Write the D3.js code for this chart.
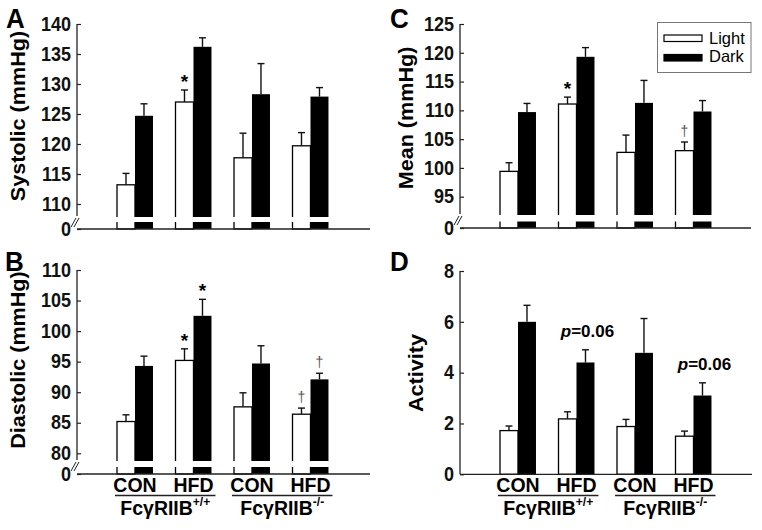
<!DOCTYPE html>
<html><head><meta charset="utf-8">
<script src="https://cdn.jsdelivr.net/npm/d3@7"></script>
<style>body{margin:0;background:#fff} svg{display:block;font-family:"Liberation Sans",Arial,sans-serif}</style>
</head><body><svg id="c" width="762" height="530"></svg>
<script>
// ---------- data ----------
const groups = ["CON +/+", "HFD +/+", "CON -/-", "HFD -/-"];
const groupLabels = ["CON", "HFD", "CON", "HFD"];
const genotypeLabels = ["+/+", "-/-"];
const series = ["Light", "Dark"];

const systolicTicks = [0, 110, 115, 120, 125, 130, 135, 140];
const systolicLight = [113.2, 127.0, 117.7, 119.7];
const systolicLightErr = [1.9, 2.0, 4.1, 2.2];
const systolicDark = [124.7, 136.2, 128.3, 127.9];
const systolicDarkErr = [2.0, 1.5, 5.1, 1.5];

const diastolicTicks = [0, 80, 85, 90, 95, 100, 105, 110];
const diastolicLight = [85.2, 95.2, 87.6, 86.4];
const diastolicLightErr = [1.1, 1.9, 2.3, 1.0];
const diastolicDark = [94.3, 102.5, 94.7, 92.1];
const diastolicDarkErr = [1.6, 2.7, 2.9, 1.0];

const meanTicks = [0, 95, 100, 105, 110, 115, 120, 125];
const meanLight = [99.4, 111.1, 102.7, 103.0];
const meanLightErr = [1.5, 1.2, 3.0, 1.5];
const meanDark = [109.7, 119.3, 111.3, 109.8];
const meanDarkErr = [1.5, 1.6, 3.9, 1.9];

const activityTicks = [0, 2, 4, 6, 8];
const activityLight = [1.72, 2.18, 1.88, 1.5];
const activityLightErr = [0.18, 0.28, 0.28, 0.2];
const activityDark = [6.0, 4.4, 4.78, 3.1];
const activityDarkErr = [0.65, 0.5, 1.35, 0.5];

const systolicMarks = [{g: 1, s: 0, t: "*"}];
const diastolicMarks = [{g: 1, s: 0, t: "*"}, {g: 1, s: 1, t: "*"}, {g: 3, s: 0, t: "†"}, {g: 3, s: 1, t: "†"}];
const meanMarks = [{g: 1, s: 0, t: "*"}, {g: 3, s: 0, t: "†"}];
const activityMarks = [{g: 1, s: 1, t: "p=0.06"}, {g: 3, s: 1, t: "p=0.06"}];

// ---------- drawing ----------
const svg = d3.select("#c");
const SY = 1.08;

const panels = [
  {letter: "A", lx: 6, ly: 28, title: "Systolic (mmHg)", tx: 18, ty: 116, ticks: systolicTicks,
   light: systolicLight, lightErr: systolicLightErr, dark: systolicDark, darkErr: systolicDarkErr, marks: systolicMarks,
   ax: 77, xEnd: 370, top: 24, yMin: 204, bottom: 229, brk: [217, 222], xlab: false},
  {letter: "B", lx: 5, ly: 271, title: "Diastolic (mmHg)", tx: 18, ty: 360, ticks: diastolicTicks,
   light: diastolicLight, lightErr: diastolicLightErr, dark: diastolicDark, darkErr: diastolicDarkErr, marks: diastolicMarks,
   ax: 77, xEnd: 370, top: 270, yMin: 453.3, bottom: 474, brk: [461, 467], xlab: true},
  {letter: "C", lx: 390, ly: 28, title: "Mean (mmHg)", tx: 406, ty: 118, ticks: meanTicks,
   light: meanLight, lightErr: meanLightErr, dark: meanDark, darkErr: meanDarkErr, marks: meanMarks,
   ax: 460, xEnd: 751, top: 24, yMin: 196.7, bottom: 228, brk: [215, 221.5], xlab: false, legend: true},
  {letter: "D", lx: 390, ly: 271, title: "Activity", tx: 416, ty: 373, ticks: activityTicks,
   light: activityLight, lightErr: activityLightErr, dark: activityDark, darkErr: activityDarkErr, marks: activityMarks,
   ax: 460, xEnd: 752, top: 271, yMin: null, bottom: 474.3, brk: null, xlab: true}
];

function drawPanel(p) {
  const g = svg.append("g");
  const step = 58.5, pin = 0.385, pout = pin / 2;
  const x0 = p.ax + 40 - pout * step;
  const x = d3.scaleBand().domain(groups).range([x0, x0 + 4 * step]).paddingInner(pin).paddingOuter(pout);
  const xs = d3.scaleBand().domain(series).range([0, x.bandwidth()]);
  const tmax = p.ticks[p.ticks.length - 1];
  let y;
  if (p.brk) {
    const tmin = p.ticks[1];
    y = d3.scaleLinear().domain([0, tmin, tmax]).range([p.bottom, p.yMin, p.top]);
  } else {
    y = d3.scaleLinear().domain([0, tmax]).range([p.bottom, p.top]);
  }
  const rows = [];
  groups.forEach((gr, i) => {
    rows.push({g: gr, gi: i, s: "Light", si: 0, v: p.light[i], e: p.lightErr[i]});
    rows.push({g: gr, gi: i, s: "Dark", si: 1, v: p.dark[i], e: p.darkErr[i]});
  });
  // bars
  g.selectAll("rect.bar").data(rows).join("rect")
    .attr("x", d => x(d.g) + xs(d.s))
    .attr("y", d => y(d.v))
    .attr("width", xs.bandwidth())
    .attr("height", d => y(0) - y(d.v))
    .attr("fill", d => d.si === 0 ? "#fff" : "#000")
    .attr("stroke", "#000")
    .attr("stroke-width", d => d.si === 0 ? 1.3 : 0);
  // error bars
  const eb = g.selectAll("g.err").data(rows).join("g").attr("stroke", "#111").attr("stroke-width", 1.4);
  eb.append("line")
    .attr("x1", d => x(d.g) + xs(d.s) + xs.bandwidth() / 2)
    .attr("x2", d => x(d.g) + xs(d.s) + xs.bandwidth() / 2)
    .attr("y1", d => y(d.v)).attr("y2", d => y(d.v + d.e));
  eb.append("line")
    .attr("x1", d => x(d.g) + xs(d.s) + xs.bandwidth() / 2 - 3.5)
    .attr("x2", d => x(d.g) + xs(d.s) + xs.bandwidth() / 2 + 3.5)
    .attr("y1", d => y(d.v + d.e)).attr("y2", d => y(d.v + d.e));
  // break band
  if (p.brk) {
    g.append("rect").attr("x", p.ax + 2).attr("y", p.brk[0]).attr("width", p.xEnd - p.ax - 2)
      .attr("height", p.brk[1] - p.brk[0]).attr("fill", "#fff");
  }
  // y axis
  const axis = d3.axisLeft(y).tickValues(p.ticks).tickSizeInner(-4).tickSizeOuter(0).tickPadding(6).tickFormat(d3.format("d"));
  const ag = g.append("g").attr("transform", `translate(${p.ax},0)`).call(axis);
  ag.select(".domain").remove();
  ag.selectAll(".tick line").attr("stroke", "#222").attr("stroke-width", 1.2);
  ag.selectAll(".tick text").attr("font-size", 18).attr("font-weight", "bold").attr("fill", "#111")
    .attr("font-family", '"Liberation Sans",Arial,sans-serif')
    .attr("transform", `scale(1,${SY})`);
  g.append("line").attr("x1", p.ax).attr("x2", p.ax).attr("y1", p.top)
    .attr("y2", p.brk ? p.brk[0] - 1 : p.bottom).attr("stroke", "#222").attr("stroke-width", 1.3);
  if (p.brk) {
    const b = p.brk[0];
    [-6, -3].forEach(dx => {
      g.append("line").attr("x1", p.ax + dx).attr("y1", b + 10).attr("x2", p.ax + dx + 5).attr("y2", b + 1)
        .attr("stroke", "#222").attr("stroke-width", 1);
    });
  }
  // x axis
  g.append("line").attr("x1", p.ax).attr("x2", p.xEnd).attr("y1", p.bottom).attr("y2", p.bottom)
    .attr("stroke", "#222").attr("stroke-width", 1.3);
  // panel letter
  g.append("text").attr("transform", `translate(${p.lx},${p.ly}) scale(1,${SY})`)
    .attr("font-size", 26).attr("font-weight", "bold").text(p.letter);
  // y title
  g.append("text").attr("transform", `translate(${p.tx},${p.ty}) rotate(-90) scale(${SY},1)`)
    .attr("text-anchor", "middle").attr("dy", "0.36em")
    .attr("font-size", 20).attr("font-weight", "bold").text(p.title);
  // marks
  p.marks.forEach(m => {
    const v = m.s === 0 ? p.light[m.g] : p.dark[m.g];
    const e = m.s === 0 ? p.lightErr[m.g] : p.darkErr[m.g];
    const cx = x(groups[m.g]) + xs(series[m.s]) + xs.bandwidth() / 2;
    const top = y(v + e);
    if (m.t === "*") {
      g.append("text").attr("x", cx).attr("y", top - 2).attr("text-anchor", "middle")
        .attr("font-size", 19).attr("font-weight", "bold").text("*");
    } else if (m.t === "†") {
      g.append("text").attr("x", cx).attr("y", top - 6).attr("text-anchor", "middle")
        .attr("font-size", 14).attr("fill", "#555").text("†");
    } else {
      const t = g.append("text").attr("x", cx + 2).attr("y", top - 13).attr("text-anchor", "middle")
        .attr("font-size", 17).attr("font-weight", "bold");
      t.append("tspan").attr("font-style", "italic").text("p");
      t.append("tspan").text(m.t.slice(1));
    }
  });
  // x labels
  if (p.xlab) {
    groups.forEach((gr, i) => {
      g.append("text").attr("transform", `translate(${x(gr) + x.bandwidth() / 2},${491.5}) scale(1,${SY})`)
        .attr("text-anchor", "middle").attr("font-size", 19.5).attr("font-weight", "bold").text(groupLabels[i]);
    });
    genotypeLabels.forEach((gl, k) => {
      const xa = x(groups[2 * k]) - 2, xb = x(groups[2 * k + 1]) + x.bandwidth() + 4;
      g.append("line").attr("x1", xa).attr("x2", xb).attr("y1", 495.5).attr("y2", 495.5)
        .attr("stroke", "#222").attr("stroke-width", 1.3);
      const t = g.append("text").attr("transform", `translate(${(xa + xb) / 2},${515}) scale(1,${SY})`)
        .attr("text-anchor", "middle").attr("font-size", 19.5).attr("font-weight", "bold");
      t.append("tspan").text("FcγRIIB");
      t.append("tspan").attr("font-size", 12).attr("dy", "-8").text(gl);
    });
  }
  // legend
  if (p.legend) {
    const lg = svg.append("g");
    lg.append("rect").attr("x", 657.5).attr("y", 22.5).attr("width", 93.5).attr("height", 50)
      .attr("fill", "#fff").attr("stroke", "#777").attr("stroke-width", 1);
    series.forEach((s, i) => {
      lg.append("rect").attr("x", 664).attr("y", 35 + i * 19.5).attr("width", 38).attr("height", 6.5)
        .attr("fill", i === 0 ? "#fff" : "#000").attr("stroke", "#000").attr("stroke-width", 1.2);
      lg.append("text").attr("x", 709).attr("y", 43.5 + i * 18.5)
        .attr("font-size", 16.5).text(s);
    });
  }
}
panels.forEach(drawPanel);
</script></body></html>
